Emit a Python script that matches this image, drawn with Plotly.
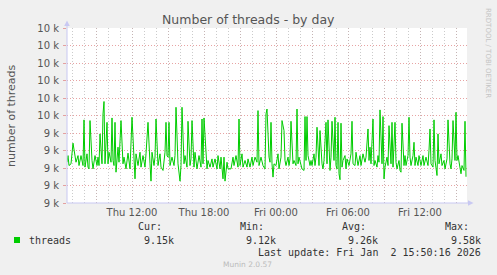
import plotly.graph_objects as go
import pandas as pd

# ---------------- data ----------------
START = "2026-01-01 06:35"
END = "2026-01-02 15:55"

minutes = [0, 5, 10, 20, 30, 40, 45, 55, 60, 70, 80, 85, 90, 100, 105, 110, 115, 125, 130, 140,
           150, 155, 160, 165, 175, 180, 185, 190, 200, 205, 210, 220, 225, 230, 235, 240, 245, 255, 260, 270,
           280, 285, 295, 305, 315, 325, 340, 345, 355, 365, 370, 380, 390, 395, 405, 415, 420, 425, 435, 440,
           445, 455, 465, 470, 480, 490, 495, 500, 505, 510, 515, 525, 535, 540, 545, 555, 565, 570, 575, 585,
           590, 600, 605, 615, 620, 625, 635, 640, 650, 660, 665, 670, 675, 680, 685, 695, 700, 705, 715, 725,
           730, 740, 750, 755, 765, 770, 780, 785, 790, 800, 805, 810, 820, 830, 835, 845, 855, 860, 865, 875,
           880, 890, 900, 905, 915, 925, 930, 940, 950, 955, 960, 970, 975, 980, 990, 995, 1000, 1010, 1015, 1020,
           1025, 1030, 1035, 1045, 1055, 1060, 1070, 1075, 1085, 1090, 1095, 1105, 1110, 1115, 1120, 1130, 1135, 1145, 1150, 1155,
           1160, 1170, 1175, 1185, 1190, 1195, 1200, 1205, 1215, 1220, 1225, 1235, 1240, 1245, 1250, 1260, 1265, 1275, 1280, 1285,
           1295, 1300, 1305, 1315, 1320, 1325, 1335, 1340, 1345, 1350, 1355, 1360, 1365, 1370, 1375, 1380, 1390, 1395, 1400, 1410,
           1420, 1425, 1430, 1440, 1445, 1455, 1465, 1470, 1480, 1490, 1495, 1505, 1510, 1515, 1520, 1530, 1535, 1540, 1550, 1555,
           1560, 1565, 1575, 1580, 1585, 1590, 1600, 1605, 1610, 1620, 1625, 1630, 1640, 1645, 1650, 1660, 1665, 1670, 1675, 1685,
           1690, 1695, 1705, 1710, 1715, 1720, 1730, 1735, 1740, 1745, 1755, 1760, 1770, 1780, 1785, 1795, 1805, 1810, 1815, 1820,
           1830, 1835, 1840, 1850, 1855, 1860, 1870, 1875, 1885, 1890, 1900, 1905, 1915, 1920, 1925, 1930, 1940, 1945, 1950, 1955,
           1965, 1970, 1975, 1985, 1990, 1995]

threads = [9233, 9271, 9214, 9224, 9342, 9262, 9233, 9271, 9214, 9271, 9214, 9475, 9205, 9281, 9205, 9195, 9471, 9243, 9195, 9271,
           9214, 9262, 9214, 9395, 9224, 9509, 9580, 9224, 9461, 9224, 9290, 9233, 9486, 9243, 9214, 9461, 9176, 9319, 9233, 9471,
           9224, 9262, 9195, 9285, 9195, 9490, 9138, 9281, 9214, 9290, 9205, 9271, 9205, 9281, 9461, 9224, 9125, 9290, 9214, 9262,
           9480, 9214, 9281, 9205, 9186, 9290, 9461, 9271, 9262, 9461, 9214, 9262, 9214, 9271, 9547, 9224, 9125, 9214, 9547, 9224,
           9271, 9205, 9467, 9214, 9252, 9471, 9205, 9290, 9195, 9271, 9243, 9205, 9480, 9224, 9486, 9252, 9195, 9243, 9205, 9252,
           9205, 9252, 9195, 9271, 9195, 9262, 9138, 9262, 9125, 9233, 9195, 9195, 9195, 9262, 9214, 9271, 9205, 9480, 9214, 9281,
           9205, 9243, 9205, 9252, 9205, 9262, 9214, 9262, 9233, 9528, 9214, 9262, 9243, 9214, 9195, 9509, 9537, 9262, 9233, 9461,
           9224, 9148, 9224, 9214, 9281, 9195, 9262, 9471, 9414, 9243, 9214, 9262, 9214, 9252, 9467, 9224, 9243, 9214, 9537, 9224,
           9262, 9205, 9195, 9186, 9494, 9243, 9494, 9271, 9214, 9243, 9214, 9281, 9214, 9262, 9433, 9214, 9414, 9224, 9195, 9243,
           9461, 9224, 9475, 9186, 9262, 9467, 9243, 9490, 9214, 9195, 9461, 9167, 9133, 9456, 9205, 9243, 9271, 9195, 9252, 9214,
           9281, 9467, 9224, 9214, 9290, 9214, 9271, 9214, 9281, 9233, 9262, 9423, 9243, 9319, 9224, 9480, 9214, 9243, 9205, 9271,
           9233, 9532, 9224, 9494, 9138, 9205, 9262, 9214, 9442, 9224, 9461, 9205, 9461, 9233, 9195, 9243, 9186, 9176, 9456, 9214,
           9271, 9214, 9271, 9490, 9262, 9214, 9271, 9347, 9214, 9262, 9214, 9271, 9214, 9271, 9214, 9262, 9214, 9300, 9423, 9224,
           9205, 9475, 9243, 9157, 9395, 9224, 9281, 9214, 9243, 9195, 9252, 9475, 9224, 9195, 9252, 9471, 9243, 9518, 9243, 9271,
           9195, 9167, 9214, 9186, 9467, 9150]

y_ticks = [9000, 9100, 9200, 9300, 9400, 9500, 9600, 9700, 9800, 9900, 10000]
y_labels = ["9 k", "9 k", "9 k", "9 k", "9 k", "10 k", "10 k", "10 k", "10 k", "10 k", "10 k"]

# major grid (every 3 h) and labelled ticks (every 6 h)
major_ticks = ["2026-01-01 09:00", "2026-01-01 12:00", "2026-01-01 15:00", "2026-01-01 18:00",
               "2026-01-01 21:00", "2026-01-02 00:00", "2026-01-02 03:00", "2026-01-02 06:00",
               "2026-01-02 09:00", "2026-01-02 12:00", "2026-01-02 15:00"]
label_ticks = ["2026-01-01 12:00", "2026-01-01 18:00", "2026-01-02 00:00",
               "2026-01-02 06:00", "2026-01-02 12:00"]
label_text = ["Thu 12:00", "Thu 18:00", "Fri 00:00", "Fri 06:00", "Fri 12:00"]
minor_ticks = list(pd.date_range("2026-01-01 07:00", "2026-01-02 15:00", freq="1h").strftime("%Y-%m-%d %H:%M"))

series_name = "threads"
stat_names = ["Cur:", "Min:", "Avg:", "Max:"]
stat_values = ["9.15k", "9.12k", "9.26k", "9.58k"]
last_update = "Last update: Fri Jan  2 15:50:16 2026"

# ---------------- layout geometry ----------------
W, H = 497, 275
L, R, T, B = 67, 467, 28, 203   # plot area in pixels


def px(x):
    return (x - L) / (R - L)


def py(y):
    return (B - y) / (B - T)


times = pd.Timestamp(START) + pd.to_timedelta(minutes, unit="min")

MAJOR = "rgba(225,140,140,0.8)"
MINOR = "rgba(185,185,185,0.75)"
DOTS = "1px,2px"
AXIS = "#c8c8f2"
GREEN = "#00cc00"
TXT = "#555555"
SANS = "DejaVu Sans"
MONO = "DejaVu Sans Mono"

minor_text = [""] * len(minor_ticks)

fig = go.Figure()
# invisible carrier trace for the overlaid grid axis
fig.add_trace(go.Scatter(x=[START, END], y=[None, None], xaxis="x2", mode="lines",
                         showlegend=False, hoverinfo="skip"))
fig.add_trace(go.Scatter(x=times, y=threads, mode="lines",
                         line=dict(color=GREEN, width=1), name=series_name,
                         showlegend=False, hoverinfo="skip"))

fig.update_layout(
    width=W, height=H,
    margin=dict(l=L, r=W - R, t=T, b=H - B),
    paper_bgcolor="#f0f0f0", plot_bgcolor="white",
    showlegend=False,
    xaxis2=dict(
        range=[START, END], type="date", overlaying="x", side="top",
        tickmode="array", tickvals=minor_ticks, ticktext=minor_text,
        showgrid=True, gridcolor=MINOR, griddash=DOTS, gridwidth=1,
        ticks="", showline=False, zeroline=False, showticklabels=False,
    ),
    xaxis=dict(
        range=[START, END], type="date",
        tickmode="array", tickvals=major_ticks,
        ticktext=[label_text[label_ticks.index(t)] if t in label_ticks else "" for t in major_ticks],
        showgrid=True, gridcolor=MAJOR, griddash=DOTS, gridwidth=1,
        ticks="", showline=False, zeroline=False,
        tickfont=dict(family=SANS, size=10, color=TXT),
        ticklabelstandoff=2,
    ),
    yaxis=dict(
        range=[9000, 10000],
        tickmode="array", tickvals=y_ticks, ticktext=y_labels,
        showgrid=True, gridcolor=MAJOR, griddash=DOTS, gridwidth=1,
        ticks="outside", ticklen=3, tickcolor=MAJOR,
        showline=False, zeroline=False,
        tickfont=dict(family=SANS, size=10, color=TXT),
        ticklabelstandoff=2,
    ),
)

shapes = []
# axis lines with arrows
shapes.append(dict(type="line", xref="paper", yref="paper", x0=0, x1=px(470), y0=0, y1=0,
                   line=dict(color=AXIS, width=1)))
shapes.append(dict(type="line", xref="paper", yref="paper", x0=0, x1=0, y0=0, y1=py(24),
                   line=dict(color=AXIS, width=1)))
shapes.append(dict(type="path", xref="paper", yref="paper",
                   path=f"M {px(64.2)} {py(26)} L {px(67)} {py(20.5)} L {px(69.8)} {py(26)} Z",
                   fillcolor=AXIS, line=dict(color=AXIS, width=0)))
shapes.append(dict(type="path", xref="paper", yref="paper",
                   path=f"M {px(468)} {py(200.2)} L {px(473.5)} {py(203)} L {px(468)} {py(205.8)} Z",
                   fillcolor=AXIS, line=dict(color=AXIS, width=0)))
# legend swatch
shapes.append(dict(type="rect", xref="paper", yref="paper",
                   x0=px(14), x1=px(20), y0=py(243), y1=py(237),
                   fillcolor=GREEN, line=dict(width=0)))
fig.update_layout(shapes=shapes)

ann = []


def text(x, y, s, size=10, family=SANS, color=TXT, xanchor="left", angle=0):
    ann.append(dict(x=px(x), y=py(y), xref="paper", yref="paper", text=s, showarrow=False,
                    xanchor=xanchor, yanchor="middle", textangle=angle,
                    font=dict(family=family, size=size, color=color)))


text(248, 19, "Number of threads - by day", size=12.5, color=TXT, xanchor="center")
text(11, 115, "number of threads", size=11, color=TXT, xanchor="center", angle=-90)
text(488, 53, "RRDTOOL / TOBI OETIKER", size=7, color="#c4c4c4", xanchor="center", angle=90)

text(27, 240, series_name, family=MONO, color="#333333")
stat_right = [176, 278, 380, 483]
for nm, val, xr in zip(stat_names, stat_values, stat_right):
    text(xr - 12.5, 226.5, nm, family=MONO, color="#333333", xanchor="right")
    text(xr, 240, val, family=MONO, color="#333333", xanchor="right")
text(483, 252.5, last_update, family=MONO, color="#333333", xanchor="right")
text(247, 264.5, "Munin 2.0.57", size=7.5, color="#bbbbbb", xanchor="center")

fig.update_layout(annotations=ann)

fig.write_html("out.html")
